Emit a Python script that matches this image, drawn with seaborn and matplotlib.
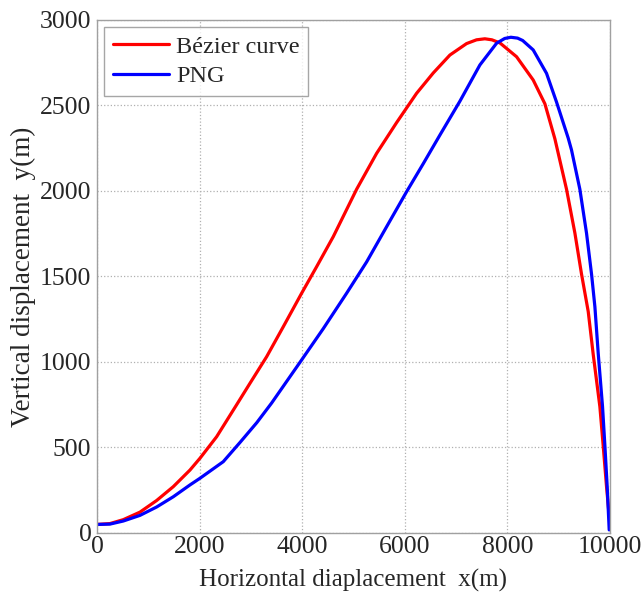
import matplotlib
matplotlib.use("Agg")
import matplotlib.pyplot as plt
import seaborn as sns
import pandas as pd

bezier_x = [0, 253, 513, 838, 1163, 1488, 1813, 2008, 2333, 2723, 2982, 3308, 3632, 3990,
            4282, 4607, 5062, 5452, 5842, 6231, 6556, 6881, 7206, 7400, 7563, 7700, 7856,
            8181, 8505, 8733, 8928, 9155, 9318, 9448, 9578, 9675, 9805, 9870, 9935, 9987]
bezier_y = [50, 55, 78, 122, 190, 271, 368, 437, 563, 750, 875, 1031, 1206, 1402,
            1557, 1733, 2010, 2220, 2400, 2571, 2690, 2795, 2862, 2884, 2890, 2884, 2866,
            2785, 2649, 2510, 2305, 2010, 1754, 1513, 1295, 1045, 739, 510, 271, 100]

png_x = [0, 253, 513, 838, 1163, 1488, 1813, 2008, 2462, 2790, 3115, 3405, 3990, 4412,
         4867, 5257, 5647, 6037, 6362, 6686, 7076, 7466, 7791, 7950, 8070, 8200, 8300,
         8505, 8765, 8960, 9187, 9252, 9415, 9545, 9643, 9708, 9773, 9857, 9903, 9948, 9987]
png_y = [50, 52, 70, 103, 152, 212, 281, 320, 417, 530, 645, 760, 1012, 1195,
         1402, 1585, 1791, 1996, 2160, 2327, 2525, 2737, 2864, 2892, 2899, 2894, 2880,
         2825, 2688, 2520, 2310, 2240, 2010, 1753, 1513, 1323, 1050, 739, 510, 271, 18]

x_ticks = [0, 2000, 4000, 6000, 8000, 10000]
y_ticks = [0, 500, 1000, 1500, 2000, 2500, 3000]

df = pd.concat([
    pd.DataFrame({"x": bezier_x, "y": bezier_y, "series": "Bézier curve"}),
    pd.DataFrame({"x": png_x, "y": png_y, "series": "PNG"}),
])

sns.set_style("white")
plt.rcParams["font.family"] = ["Liberation Serif", "DejaVu Serif"]

fig = plt.figure(figsize=(6.44, 5.93), dpi=100)
ax = fig.add_axes([0.1506, 0.1012, 0.7964, 0.8651])

sns.lineplot(data=df, x="x", y="y", hue="series", palette=["#ff0000", "#0000ff"],
             sort=False, estimator=None, linewidth=2.3, ax=ax)

ax.set_xlim(0, 10000)
ax.set_ylim(0, 3000)
ax.set_xticks(x_ticks)
ax.set_yticks(y_ticks)
ax.grid(True, linestyle=":", color="#b0b0b0", linewidth=0.9)
for s in ax.spines.values():
    s.set_color("#a0a0a0")
    s.set_linewidth(1.0)
ax.tick_params(direction="in", length=4, color="#a0a0a0", labelsize=18.5)
ax.tick_params(axis="x", pad=2)
ax.tick_params(axis="y", pad=4)
ax.set_xlabel("Horizontal diaplacement  x(m)", fontsize=18, labelpad=8)
ax.set_ylabel("Vertical displacement  y(m)", fontsize=19.5, labelpad=3)

leg = ax.legend(loc="upper left", fontsize=17.5, frameon=True, fancybox=False,
                edgecolor="#909090", handlelength=2.3, handletextpad=0.3,
                borderpad=0.35, labelspacing=0.3, borderaxespad=0.3)
leg.get_frame().set_linewidth(1.0)
for h in leg.get_lines():
    h.set_linewidth(2.3)

fig.savefig("out.png", dpi=100)
